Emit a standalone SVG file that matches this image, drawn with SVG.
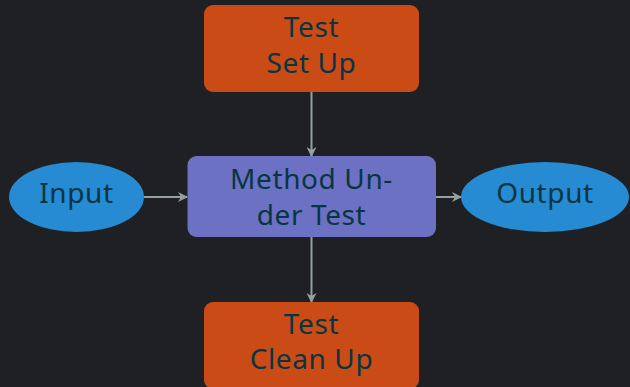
<svg xmlns="http://www.w3.org/2000/svg" width="630" height="387" viewBox="0 0 630 387">
  <defs>
    <marker id="arrow" viewBox="0 0 10 10" refX="9" refY="5" markerWidth="10" markerHeight="10" markerUnits="userSpaceOnUse" orient="auto">
      <path d="M0,0 L10,5 L0,10 L3,5 Z" fill="#93a1a1"/>
    </marker>
    <style>
      .label { font-family: "Noto Sans", "Open Sans", sans-serif; font-size: 28px; letter-spacing: 0.6px; fill: #073642; text-anchor: middle; }
      .step { fill: #cb4b16; }
      .core { fill: #6c71c4; }
      .io { fill: #268bd2; }
      .edge { stroke: #93a1a1; stroke-width: 2; fill: none; marker-end: url(#arrow); }
    </style>
  </defs>
  <rect width="630" height="387" fill="#1f2023"/>

  <g id="connectors">
    <line class="edge" x1="311.5" y1="92" x2="311.5" y2="156"/>
    <line class="edge" x1="311.5" y1="237" x2="311.5" y2="302"/>
    <line class="edge" x1="144" y1="197" x2="187" y2="197"/>
    <line class="edge" x1="436" y1="197" x2="461" y2="197"/>
  </g>

  <g id="setup">
    <rect class="step" x="204" y="5" width="215" height="87" rx="9"/>
    <text class="label" x="311.5" y="37">Test</text>
    <text class="label" x="311.5" y="73">Set Up</text>
  </g>

  <g id="method">
    <rect class="core" x="187.5" y="156" width="248.5" height="81" rx="9"/>
    <text class="label" x="311.5" y="189">Method Un-</text>
    <text class="label" x="311.5" y="225">der Test</text>
  </g>

  <g id="input">
    <ellipse class="io" cx="76.5" cy="197" rx="67.5" ry="35"/>
    <text class="label" x="76.5" y="203">Input</text>
  </g>

  <g id="output">
    <ellipse class="io" cx="545" cy="197" rx="84" ry="35"/>
    <text class="label" x="545" y="203">Output</text>
  </g>

  <g id="cleanup">
    <rect class="step" x="204" y="302" width="215" height="87" rx="9"/>
    <text class="label" x="311.5" y="334">Test</text>
    <text class="label" x="311.5" y="369">Clean Up</text>
  </g>
</svg>
